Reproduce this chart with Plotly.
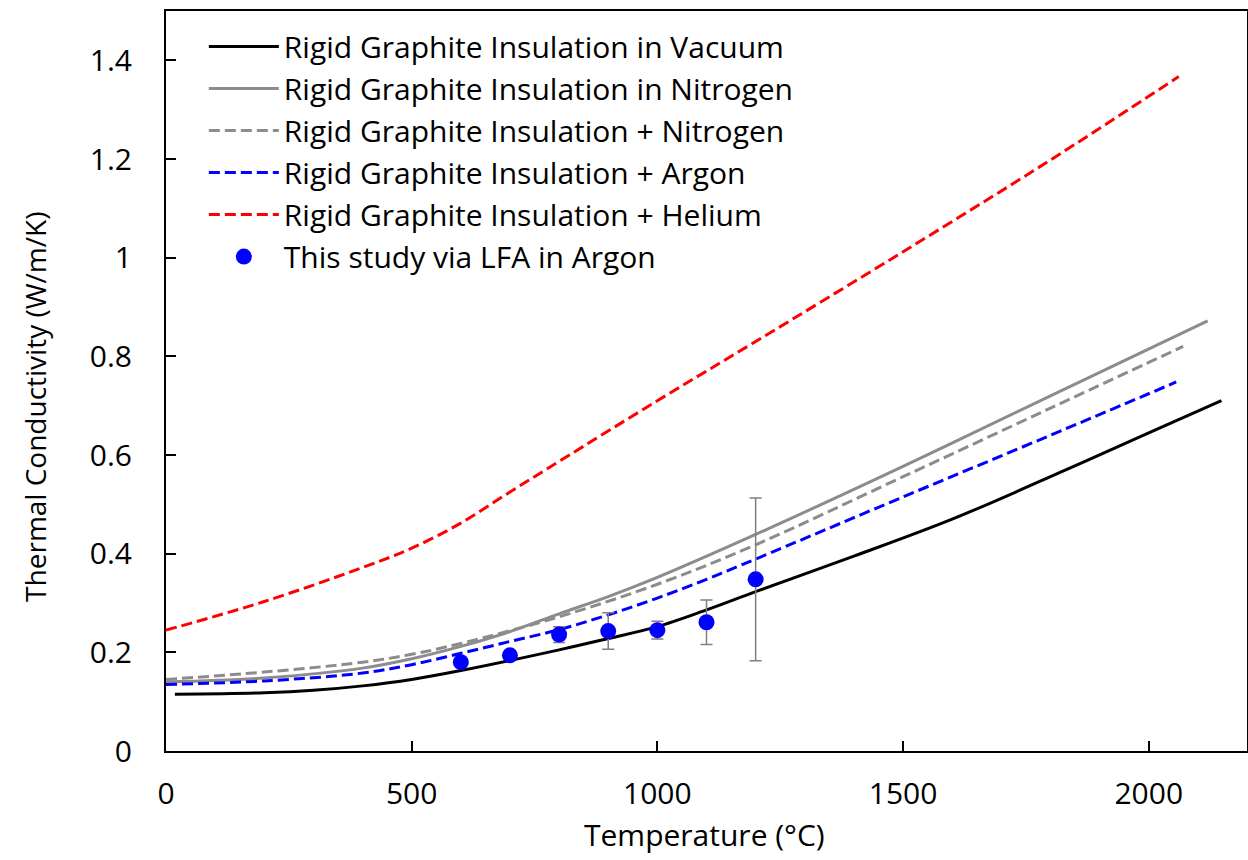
import plotly.graph_objects as go

# ---- data ----
T_vac = [18, 200, 300, 400, 500, 600, 800, 900, 1000, 1100, 1200, 1400, 1600, 1800, 2000, 2148]
k_vac = [0.115, 0.118, 0.123, 0.132, 0.145, 0.163, 0.205, 0.228, 0.252, 0.286, 0.323, 0.395, 0.470, 0.556, 0.645, 0.710]

T_n2 = [0, 200, 400, 500, 600, 700, 800, 900, 1000, 1200, 1500, 1800, 2120]
k_n2 = [0.140, 0.148, 0.168, 0.187, 0.212, 0.242, 0.278, 0.313, 0.352, 0.439, 0.577, 0.720, 0.872]

T_pn2 = [0, 200, 400, 500, 600, 800, 1000, 1200, 1500, 1800, 2070]
k_pn2 = [0.145, 0.160, 0.180, 0.196, 0.218, 0.272, 0.338, 0.418, 0.556, 0.695, 0.820]

T_ar = [0, 200, 400, 500, 600, 700, 800, 900, 1000, 1100, 1200, 1500, 1800, 2056]
k_ar = [0.135, 0.142, 0.158, 0.175, 0.198, 0.222, 0.246, 0.276, 0.310, 0.348, 0.389, 0.515, 0.640, 0.748]

T_he = [0, 200, 400, 500, 600, 700, 800, 1000, 1200, 1500, 1800, 2061]
k_he = [0.245, 0.303, 0.372, 0.411, 0.462, 0.525, 0.587, 0.710, 0.830, 1.012, 1.198, 1.367]

T_lfa = [600, 700, 800, 900, 1000, 1100, 1200]
k_lfa = [0.180, 0.194, 0.236, 0.243, 0.245, 0.261, 0.348]
err_lfa = [0.008, 0.008, 0.016, 0.037, 0.018, 0.045, 0.165]

names = [
    "Rigid Graphite Insulation in Vacuum",
    "Rigid Graphite Insulation in Nitrogen",
    "Rigid Graphite Insulation + Nitrogen",
    "Rigid Graphite Insulation + Argon",
    "Rigid Graphite Insulation + Helium",
    "This study via LFA in Argon",
]
x_title = "Temperature (°C)"
y_title = "Thermal Conductivity (W/m/K)"

FONT = "Open Sans"
FS = 30
DASH = "11px,5px"

fig = go.Figure()
curves = [
    (T_vac, k_vac, "#000000", "solid"),
    (T_n2, k_n2, "#8c8c8c", "solid"),
    (T_pn2, k_pn2, "#8c8c8c", DASH),
    (T_ar, k_ar, "#0000ff", DASH),
    (T_he, k_he, "#ff0000", DASH),
]
for i, (x, y, c, d) in enumerate(curves):
    fig.add_trace(go.Scatter(
        x=x, y=y, mode="lines", name=names[i],
        line=dict(color=c, width=3, dash=d, shape="spline", smoothing=1.0),
    ))

fig.add_trace(go.Scatter(
    x=T_lfa, y=k_lfa, mode="markers", name=names[5],
    marker=dict(color="#0000ff", size=16, symbol="circle"),
    error_y=dict(type="data", array=err_lfa, visible=True,
                 color="#7f7f7f", thickness=1.5, width=6),
))

fig.update_layout(
    width=1248, height=860,
    margin=dict(l=166, r=1, t=11, b=109),
    paper_bgcolor="white", plot_bgcolor="white",
    font=dict(family=FONT, size=FS, color="#000000"),
    legend=dict(
        x=0.035, y=0.987, xanchor="left", yanchor="top",
        bgcolor="rgba(0,0,0,0)", font=dict(family=FONT, size=30),
        itemwidth=70,
    ),
    showlegend=True,
    annotations=[
        dict(text=x_title, xref="paper", yref="paper", x=0.4985, y=-0.1135,
             xanchor="center", yanchor="middle", showarrow=False,
             font=dict(family=FONT, size=FS)),
        dict(text=y_title, xref="paper", yref="paper", x=-0.1212, y=0.465,
             xanchor="center", yanchor="middle", showarrow=False, textangle=-90,
             font=dict(family=FONT, size=28)),
    ],
)
fig.update_xaxes(
    range=[0, 2200], tickvals=[0, 500, 1000, 1500, 2000],
    ticks="inside", ticklen=10, tickwidth=2, tickcolor="black",
    showline=True, linecolor="black", linewidth=2, mirror=True,
    showgrid=False, zeroline=False, automargin=False,
    ticklabelstandoff=15,
)
fig.update_yaxes(
    range=[0, 1.5], tickvals=[0, 0.2, 0.4, 0.6, 0.8, 1.0, 1.2, 1.4],
    ticktext=["0", "0.2", "0.4", "0.6", "0.8", "1", "1.2", "1.4"],
    ticks="inside", ticklen=10, tickwidth=2, tickcolor="black",
    showline=True, linecolor="black", linewidth=2, mirror=True,
    showgrid=False, zeroline=False, automargin=False,
    ticklabelstandoff=26,
)

fig.write_html("out.html", config={"displayModeBar": False},
               post_script="document.body.style.margin='0';")
